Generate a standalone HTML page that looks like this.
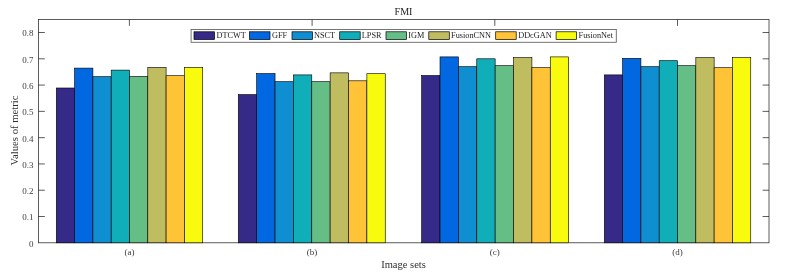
<!DOCTYPE html>
<html lang="en"><head><meta charset="utf-8"><title>FMI</title>
<style>html,body{margin:0;padding:0;background:#fff}svg{display:block}text{font-family:"Liberation Serif","Times New Roman",serif}</style></head><body>
<svg width="788" height="278" viewBox="0 0 788 278">
<rect x="0" y="0" width="788" height="278" fill="#fff"/>
<path d="M129.40 242.8V236.40M129.40 19.45V25.85M312.10 242.8V236.40M312.10 19.45V25.85M494.80 242.8V236.40M494.80 19.45V25.85M677.50 242.8V236.40M677.50 19.45V25.85M38.4 216.51H44.80M769.0 216.51H762.60M38.4 190.23H44.80M769.0 190.23H762.60M38.4 163.94H44.80M769.0 163.94H762.60M38.4 137.66H44.80M769.0 137.66H762.60M38.4 111.37H44.80M769.0 111.37H762.60M38.4 85.08H44.80M769.0 85.08H762.60M38.4 58.80H44.80M769.0 58.80H762.60M38.4 32.51H44.80M769.0 32.51H762.60" stroke="#262626" stroke-width="0.75" fill="none"/>
<rect x="38.4" y="19.45" width="730.6" height="223.35000000000002" fill="none" stroke="#262626" stroke-width="0.75"/>
<rect x="56.30" y="88.00" width="18.30" height="154.80" fill="#352A87" stroke="#000" stroke-width="0.62"/>
<rect x="74.60" y="68.10" width="18.30" height="174.70" fill="#0268E1" stroke="#000" stroke-width="0.62"/>
<rect x="92.90" y="76.70" width="18.30" height="166.10" fill="#108ED2" stroke="#000" stroke-width="0.62"/>
<rect x="111.20" y="70.10" width="18.30" height="172.70" fill="#0FAEB9" stroke="#000" stroke-width="0.62"/>
<rect x="129.50" y="76.40" width="18.30" height="166.40" fill="#65BE86" stroke="#000" stroke-width="0.62"/>
<rect x="147.80" y="67.40" width="18.30" height="175.40" fill="#C0BC60" stroke="#000" stroke-width="0.62"/>
<rect x="166.10" y="75.70" width="18.30" height="167.10" fill="#FFC337" stroke="#000" stroke-width="0.62"/>
<rect x="184.40" y="67.40" width="18.30" height="175.40" fill="#F9FB0E" stroke="#000" stroke-width="0.62"/>
<rect x="238.30" y="94.60" width="18.37" height="148.20" fill="#352A87" stroke="#000" stroke-width="0.62"/>
<rect x="256.67" y="73.60" width="18.37" height="169.20" fill="#0268E1" stroke="#000" stroke-width="0.62"/>
<rect x="275.04" y="81.70" width="18.37" height="161.10" fill="#108ED2" stroke="#000" stroke-width="0.62"/>
<rect x="293.41" y="74.90" width="18.37" height="167.90" fill="#0FAEB9" stroke="#000" stroke-width="0.62"/>
<rect x="311.77" y="81.70" width="18.37" height="161.10" fill="#65BE86" stroke="#000" stroke-width="0.62"/>
<rect x="330.14" y="72.85" width="18.37" height="169.95" fill="#C0BC60" stroke="#000" stroke-width="0.62"/>
<rect x="348.51" y="80.80" width="18.37" height="162.00" fill="#FFC337" stroke="#000" stroke-width="0.62"/>
<rect x="366.88" y="73.70" width="18.37" height="169.10" fill="#F9FB0E" stroke="#000" stroke-width="0.62"/>
<rect x="421.65" y="75.50" width="18.38" height="167.30" fill="#352A87" stroke="#000" stroke-width="0.62"/>
<rect x="440.02" y="56.90" width="18.38" height="185.90" fill="#0268E1" stroke="#000" stroke-width="0.62"/>
<rect x="458.40" y="66.70" width="18.38" height="176.10" fill="#108ED2" stroke="#000" stroke-width="0.62"/>
<rect x="476.77" y="58.80" width="18.38" height="184.00" fill="#0FAEB9" stroke="#000" stroke-width="0.62"/>
<rect x="495.15" y="65.70" width="18.38" height="177.10" fill="#65BE86" stroke="#000" stroke-width="0.62"/>
<rect x="513.52" y="57.60" width="18.38" height="185.20" fill="#C0BC60" stroke="#000" stroke-width="0.62"/>
<rect x="531.90" y="67.60" width="18.38" height="175.20" fill="#FFC337" stroke="#000" stroke-width="0.62"/>
<rect x="550.27" y="56.90" width="18.38" height="185.90" fill="#F9FB0E" stroke="#000" stroke-width="0.62"/>
<rect x="604.30" y="74.90" width="18.31" height="167.90" fill="#352A87" stroke="#000" stroke-width="0.62"/>
<rect x="622.61" y="58.40" width="18.31" height="184.40" fill="#0268E1" stroke="#000" stroke-width="0.62"/>
<rect x="640.91" y="66.70" width="18.31" height="176.10" fill="#108ED2" stroke="#000" stroke-width="0.62"/>
<rect x="659.22" y="60.70" width="18.31" height="182.10" fill="#0FAEB9" stroke="#000" stroke-width="0.62"/>
<rect x="677.52" y="65.70" width="18.31" height="177.10" fill="#65BE86" stroke="#000" stroke-width="0.62"/>
<rect x="695.83" y="57.60" width="18.31" height="185.20" fill="#C0BC60" stroke="#000" stroke-width="0.62"/>
<rect x="714.14" y="67.70" width="18.31" height="175.10" fill="#FFC337" stroke="#000" stroke-width="0.62"/>
<rect x="732.44" y="57.60" width="18.31" height="185.20" fill="#F9FB0E" stroke="#000" stroke-width="0.62"/>
<text x="33.5" y="246.70" font-size="9" text-anchor="end" fill="#404040">0</text>
<text x="33.5" y="220.41" font-size="9" text-anchor="end" fill="#404040">0.1</text>
<text x="33.5" y="194.13" font-size="9" text-anchor="end" fill="#404040">0.2</text>
<text x="33.5" y="167.84" font-size="9" text-anchor="end" fill="#404040">0.3</text>
<text x="33.5" y="141.56" font-size="9" text-anchor="end" fill="#404040">0.4</text>
<text x="33.5" y="115.27" font-size="9" text-anchor="end" fill="#404040">0.5</text>
<text x="33.5" y="88.98" font-size="9" text-anchor="end" fill="#404040">0.6</text>
<text x="33.5" y="62.70" font-size="9" text-anchor="end" fill="#404040">0.7</text>
<text x="33.5" y="36.41" font-size="9" text-anchor="end" fill="#404040">0.8</text>
<text x="129.40" y="255" font-size="9" text-anchor="middle" fill="#3a3a3a">(a)</text>
<text x="312.10" y="255" font-size="9" text-anchor="middle" fill="#3a3a3a">(b)</text>
<text x="494.80" y="255" font-size="9" text-anchor="middle" fill="#3a3a3a">(c)</text>
<text x="677.50" y="255" font-size="9" text-anchor="middle" fill="#3a3a3a">(d)</text>
<text x="403.5" y="268.2" font-size="10.5" text-anchor="middle" fill="#303030">Image sets</text>
<text transform="translate(17.6 130.5) rotate(-90)" font-size="10.7" text-anchor="middle" fill="#303030">Values of metric</text>
<text x="403.5" y="15" font-size="10.1" text-anchor="middle" fill="#1c1c1c">FMI</text>
<rect x="191.1" y="29.5" width="425.2" height="12.8" fill="#fff" stroke="#666" stroke-width="0.9"/>
<rect x="194" y="31.8" width="20.5" height="7.7" fill="#352A87" stroke="#000" stroke-width="0.7"/>
<text x="216.5" y="38.4" font-size="8.25" fill="#1a1a1a">DTCWT</text>
<rect x="249.5" y="31.8" width="20.5" height="7.7" fill="#0268E1" stroke="#000" stroke-width="0.7"/>
<text x="272.0" y="38.4" font-size="8.25" fill="#1a1a1a">GFF</text>
<rect x="292" y="31.8" width="20.5" height="7.7" fill="#108ED2" stroke="#000" stroke-width="0.7"/>
<text x="314" y="38.4" font-size="8.25" fill="#1a1a1a">NSCT</text>
<rect x="339.7" y="31.8" width="20.5" height="7.7" fill="#0FAEB9" stroke="#000" stroke-width="0.7"/>
<text x="361.8" y="38.4" font-size="8.25" fill="#1a1a1a">LPSR</text>
<rect x="386" y="31.8" width="20.5" height="7.7" fill="#65BE86" stroke="#000" stroke-width="0.7"/>
<text x="408.3" y="38.4" font-size="8.25" fill="#1a1a1a">IGM</text>
<rect x="428.8" y="31.8" width="20.5" height="7.7" fill="#C0BC60" stroke="#000" stroke-width="0.7"/>
<text x="451.1" y="38.4" font-size="8.25" fill="#1a1a1a">FusionCNN</text>
<rect x="495.7" y="31.8" width="20.5" height="7.7" fill="#FFC337" stroke="#000" stroke-width="0.7"/>
<text x="518.2" y="38.4" font-size="8.25" fill="#1a1a1a">DDcGAN</text>
<rect x="556.1" y="31.8" width="20.5" height="7.7" fill="#F9FB0E" stroke="#000" stroke-width="0.7"/>
<text x="578.6" y="38.4" font-size="8.25" fill="#1a1a1a">FusionNet</text>
</svg></body></html>
